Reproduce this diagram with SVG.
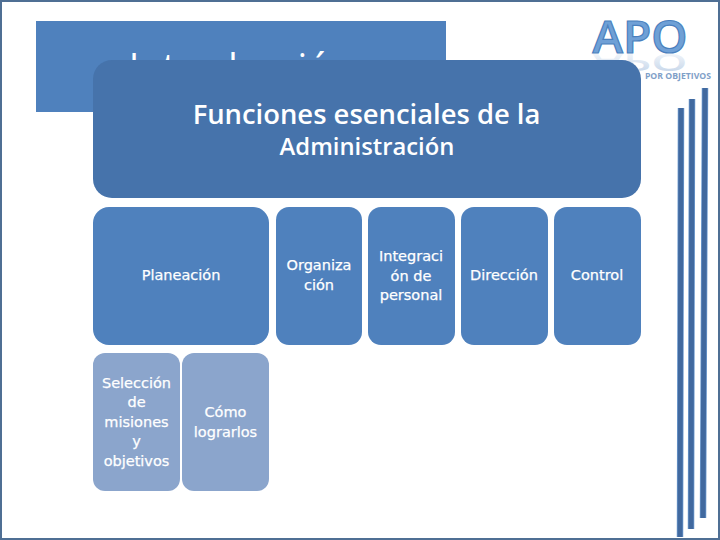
<svg xmlns="http://www.w3.org/2000/svg" width="720" height="540" viewBox="0 0 720 540">
<defs><style>
.t{fill:#fff;font-family:"Open Sans","Noto Sans",sans-serif;font-weight:600;text-anchor:middle}
.l{fill:#fff;stroke:#fff;stroke-width:.25;font-family:"DejaVu Sans",sans-serif;font-size:14.5px;text-anchor:middle}
.b{fill:#4F81BD}
.c{fill:#8BA5CC}
.bar{stroke:#41699F;stroke-width:5;fill:none}
.barEdge{stroke:#6E9BD0;stroke-width:6.500;fill:none}
</style>
<linearGradient id="r" x1="0" y1="0" x2="0" y2="1"><stop offset="0" stop-color="#4F81BD" stop-opacity=".4"/><stop offset="1" stop-color="#4F81BD" stop-opacity="0"/></linearGradient>
</defs>
<rect width="720" height="540" fill="#fff"/>
<rect x="1" y="1" width="718" height="538" fill="none" stroke="#4F6F94" stroke-width="2"/>
<g id="logo">
<text x="640" y="53" text-anchor="middle" font-family="'Open Sans',sans-serif" font-size="46" font-weight="600" fill="#6FA0D6" stroke="#4A80BE" stroke-width="1.200">APO</text>
<text transform="translate(640 54) scale(1 -.5)" text-anchor="middle" font-family="'Open Sans',sans-serif" font-size="46" font-weight="600" fill="url(#r)">APO</text>
<text x="711" y="79" text-anchor="end" font-family="'Open Sans',sans-serif" font-size="8.700" font-weight="700" fill="#7FA0C8">POR OBJETIVOS</text>
</g>
<g id="bars">
<path class="barEdge" d="M681 108L680 537M692 99L691 529M705 88L703 518"/>
<path class="bar" d="M681 108L680 537M692 99L691 529M705 88L703 518"/>
</g>
<g id="title-back">
<rect x="36" y="21" width="410" height="91" fill="#4F81BD"/>
<text x="241" y="81" class="t" font-size="38" style="font-weight:400">Introducción</text>
</g>
<g id="header">
<rect x="93" y="60" width="548" height="138" rx="19" fill="#4673AB"/>
<text x="366.500" y="124" class="t" font-size="27.400">Funciones esenciales de la</text>
<text x="367" y="155" class="t" font-size="23.800">Administración</text>
</g>
<g id="planeacion"><rect class="b" x="93" y="207" width="176" height="138" rx="16"/><text class="l" x="181" y="280">Planeación</text></g>
<g id="organizacion"><rect class="b" x="276" y="207" width="86" height="138" rx="13"/><text class="l" x="319" y="270">Organiza</text><text class="l" x="319" y="290">ción</text></g>
<g id="integracion"><rect class="b" x="368" y="207" width="87" height="138" rx="13"/><text class="l" x="411" y="261">Integraci</text><text class="l" x="411" y="281">ón de</text><text class="l" x="411" y="300">personal</text></g>
<g id="direccion"><rect class="b" x="461" y="207" width="87" height="138" rx="13"/><text class="l" x="504" y="280">Dirección</text></g>
<g id="control"><rect class="b" x="554" y="207" width="87" height="138" rx="13"/><text class="l" x="597" y="280">Control</text></g>
<g id="seleccion"><rect class="c" x="93" y="353" width="87" height="138" rx="12"/>
<text class="l" x="136.500" y="388">Selección</text><text class="l" x="136.500" y="407">de</text><text class="l" x="136.500" y="427">misiones</text><text class="l" x="136.500" y="446">y</text><text class="l" x="136.500" y="466">objetivos</text></g>
<g id="como"><rect class="c" x="182" y="353" width="87" height="138" rx="12"/>
<text class="l" x="225.500" y="417">Cómo</text><text class="l" x="225.500" y="437">lograrlos</text></g>
</svg>
